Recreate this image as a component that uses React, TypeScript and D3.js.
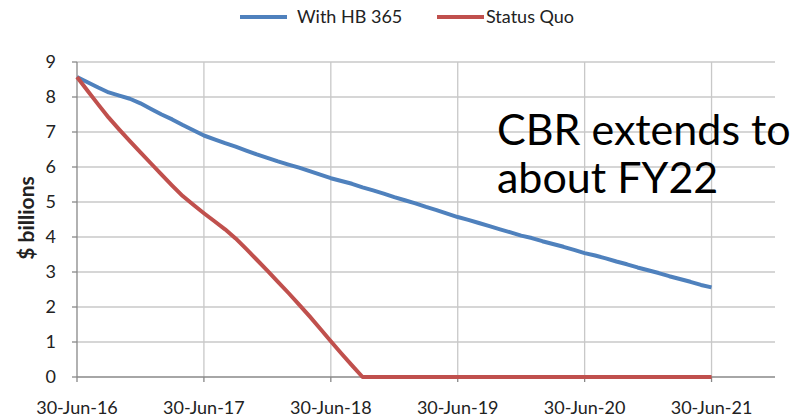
import { useEffect, useRef } from "react"
import * as d3 from "d3"

// month index 0 = 30-Jun-16, monthly through 30-Jun-21
const withHB365 = [
  8.57, 8.42, 8.27, 8.13, 8.04, 7.95, 7.82, 7.66, 7.5, 7.36, 7.2, 7.05, 6.9,
  6.79, 6.68, 6.58, 6.47, 6.36, 6.26, 6.16, 6.07, 5.98, 5.88, 5.78, 5.68,
  5.6, 5.52, 5.42, 5.33, 5.24, 5.14, 5.05, 4.96, 4.86, 4.77, 4.67, 4.57,
  4.49, 4.4, 4.31, 4.22, 4.13, 4.04, 3.97, 3.88, 3.8, 3.72, 3.63, 3.54,
  3.47, 3.39, 3.3, 3.22, 3.13, 3.05, 2.97, 2.88, 2.8, 2.72, 2.63, 2.56,
]

const statusQuo = [
  8.57, 8.18, 7.79, 7.41, 7.07, 6.74, 6.42, 6.1, 5.78, 5.47, 5.17, 4.92, 4.68,
  4.45, 4.22, 3.96, 3.66, 3.35, 3.04, 2.72, 2.4, 2.07, 1.73, 1.38, 1.02,
  0.67, 0.33, 0, 0, 0, 0, 0, 0, 0, 0, 0, 0,
  0, 0, 0, 0, 0, 0, 0, 0, 0, 0, 0, 0,
  0, 0, 0, 0, 0, 0, 0, 0, 0, 0, 0, 0,
]

const xTickLabels = ["30-Jun-16", "30-Jun-17", "30-Jun-18", "30-Jun-19", "30-Jun-20", "30-Jun-21"]
const yTicks = [0, 1, 2, 3, 4, 5, 6, 7, 8, 9]

const series = [
  { name: "With HB 365", values: withHB365, color: "#4F81BD" },
  { name: "Status Quo", values: statusQuo, color: "#C0504D" },
]

const font = "Lato, 'Open Sans', sans-serif"

export default function App() {
  const svgRef = useRef<SVGSVGElement>(null)

  useEffect(() => {
    if (!svgRef.current) return
    const width = 794
    const height = 418
    const svg = d3.select(svgRef.current)
    svg.selectAll("*").remove()
    svg.attr("width", width).attr("height", height)

    const x = d3.scaleLinear().domain([0, 66]).range([77, 775])
    const y = d3.scaleLinear().domain([0, 9]).range([377, 62])

    svg.append("rect").attr("width", width).attr("height", height).attr("fill", "white")

    // horizontal gridlines
    svg.append("g")
      .selectAll("line")
      .data(yTicks.filter((d) => d > 0))
      .join("line")
      .attr("x1", x(0))
      .attr("x2", x(66))
      .attr("y1", (d) => y(d))
      .attr("y2", (d) => y(d))
      .attr("stroke", "#c8c8c8")
      .attr("stroke-width", 1.3)

    // vertical gridlines
    svg.append("g")
      .selectAll("line")
      .data(xTickLabels.slice(1))
      .join("line")
      .attr("x1", (_, i) => x((i + 1) * 12))
      .attr("x2", (_, i) => x((i + 1) * 12))
      .attr("y1", y(9))
      .attr("y2", y(0))
      .attr("stroke", "#c8c8c8")
      .attr("stroke-width", 1.3)

    // y axis
    const yAxis = svg.append("g")
    yAxis.append("line")
      .attr("x1", x(0)).attr("x2", x(0))
      .attr("y1", y(9)).attr("y2", y(0))
      .attr("stroke", "#888").attr("stroke-width", 1.3)
    yAxis.selectAll("line.tick")
      .data(yTicks)
      .join("line")
      .attr("class", "tick")
      .attr("x1", x(0) - 5).attr("x2", x(0))
      .attr("y1", (d) => y(d)).attr("y2", (d) => y(d))
      .attr("stroke", "#888").attr("stroke-width", 1.3)
    yAxis.selectAll("text")
      .data(yTicks)
      .join("text")
      .attr("x", 56)
      .attr("y", (d) => y(d))
      .attr("dy", "0.36em")
      .attr("text-anchor", "end")
      .attr("font-family", font)
      .attr("font-size", 18)
      .attr("fill", "#222")
      .text((d) => d)

    // x axis
    const xAxis = svg.append("g")
    xAxis.append("line")
      .attr("x1", x(0)).attr("x2", x(66))
      .attr("y1", y(0)).attr("y2", y(0))
      .attr("stroke", "#888").attr("stroke-width", 1.3)
    xAxis.selectAll("line.tick")
      .data(xTickLabels)
      .join("line")
      .attr("class", "tick")
      .attr("x1", (_, i) => x(i * 12)).attr("x2", (_, i) => x(i * 12))
      .attr("y1", y(0)).attr("y2", y(0) + 5)
      .attr("stroke", "#888").attr("stroke-width", 1.3)
    xAxis.selectAll("text")
      .data(xTickLabels)
      .join("text")
      .attr("x", (_, i) => x(i * 12))
      .attr("y", 414)
      .attr("text-anchor", "middle")
      .attr("font-family", font)
      .attr("font-size", 18)
      .attr("fill", "#222")
      .text((d) => d)

    svg.append("text")
      .attr("transform", `translate(34,218) rotate(-90)`)
      .attr("text-anchor", "middle")
      .attr("font-family", font)
      .attr("font-weight", "bold")
      .attr("font-size", 21)
      .attr("fill", "#222")
      .text("$ billions")

    const line = d3.line<number>()
      .x((_, i) => x(i))
      .y((d) => y(d))

    series.forEach((s) => {
      svg.append("path")
        .datum(s.values)
        .attr("fill", "none")
        .attr("stroke", s.color)
        .attr("stroke-width", 4)
        .attr("stroke-linejoin", "round")
        .attr("d", line)
    })

    // legend
    const legendPos = [240, 437]
    series.forEach((s, i) => {
      const lg = svg.append("g").attr("transform", `translate(${legendPos[i]},17)`)
      lg.append("line")
        .attr("x1", 0).attr("x2", 47)
        .attr("stroke", s.color).attr("stroke-width", 4)
      lg.append("text")
        .attr("x", i === 0 ? 57 : 49)
        .attr("dy", "0.35em")
        .attr("font-family", font)
        .attr("font-size", 18)
        .attr("fill", "#222")
        .text(s.name)
    })

    // annotation
    const note = svg.append("text")
      .attr("font-family", font)
      .attr("font-size", 43)
      .attr("fill", "#000")
    note.append("tspan").attr("x", 497).attr("y", 145).text("CBR extends to")
    note.append("tspan").attr("x", 497).attr("y", 193).text("about FY22")
  }, [])

  return (
    <div style={{ position: "absolute", left: 0, top: 0 }}>
      <svg ref={svgRef} style={{ display: "block" }} />
    </div>
  )
}
